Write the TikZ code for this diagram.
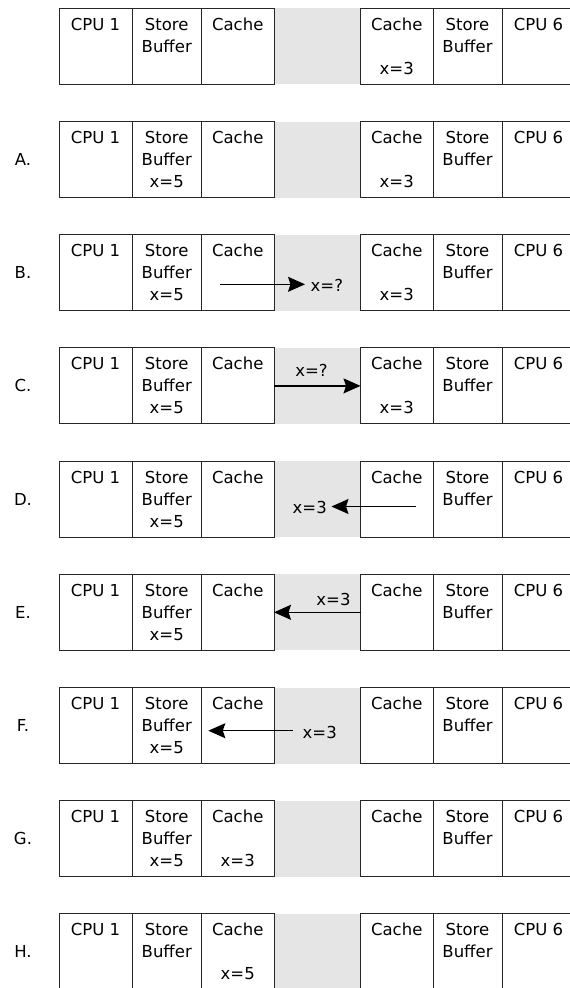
\documentclass[tikz,border=0pt]{standalone}
\usepackage{fontspec}
\setmainfont{DejaVu Sans}
\usetikzlibrary{arrows.meta}
\tikzset{
  cell/.style={draw=black!85,line width=0.9pt,anchor=north west,minimum height=76pt,inner sep=0pt,outer sep=0pt},
  band/.style={fill=black!10,draw=none,anchor=north west,minimum height=76pt,minimum width=86.5pt,inner sep=0pt,outer sep=0pt},
  txt/.style={anchor=base,font=\fontsize{16.5}{19}\selectfont,inner sep=0pt},
  mv/.style={line width=1.3pt,-{Stealth[length=17pt,width=15pt,inset=2.5pt]}}
}
% #1 id, #2 top, #3 row letter, #4 store buffer line 3, #5 left cache line 3, #6 right cache line 3
\newcommand\cpurow[6]{%
  \node[band] (gap-#1) at (274,#2) {};
  \node[cell,minimum width=73pt] (cpuA-#1) at (59,#2) {};
  \node[cell,minimum width=69.5pt] (sbL-#1) at (132,#2) {};
  \node[cell,minimum width=72.5pt] (caL-#1) at (201.5,#2) {};
  \node[cell,minimum width=72.5pt] (caR-#1) at (360.5,#2) {};
  \node[cell,minimum width=69pt] (sbR-#1) at (433,#2) {};
  \node[cell,minimum width=73pt] (cpuB-#1) at (502,#2) {};
  \node[txt] (t1-#1) at ({95.5},{#2+22}) {CPU 1};
  \node[txt] (t2-#1) at ({166.75},{#2+22}) {Store};
  \node[txt] (t3-#1) at ({166.75},{#2+44}) {Buffer};
  \node[txt] (t4-#1) at ({166.75},{#2+66}) {#4};
  \node[txt] (t5-#1) at ({237.75},{#2+22}) {Cache};
  \node[txt] (t6-#1) at ({237.75},{#2+66}) {#5};
  \node[txt] (t7-#1) at ({396.75},{#2+22}) {Cache};
  \node[txt] (t8-#1) at ({396.75},{#2+66}) {#6};
  \node[txt] (t9-#1) at ({467.5},{#2+22}) {Store};
  \node[txt] (t10-#1) at ({467.5},{#2+44}) {Buffer};
  \node[txt] (t11-#1) at ({538.5},{#2+22}) {CPU 6};
  \node[txt] (lab-#1) at ({23},{#2+44}) {#3};
}
\begin{document}
\begin{tikzpicture}[x=1pt,y=-1pt]
\useasboundingbox (0,0) rectangle (570,988);
\clip (0,0) rectangle (570,988);
\cpurow{0}{8.3}{}{}{}{x=3}
\cpurow{1}{121.5}{A.}{x=5}{}{x=3}
\cpurow{2}{234.7}{B.}{x=5}{}{x=3}
\cpurow{3}{347.9}{C.}{x=5}{}{x=3}
\cpurow{4}{461.1}{D.}{x=5}{}{}
\cpurow{5}{574.3}{E.}{x=5}{}{}
\cpurow{6}{687.5}{F.}{x=5}{}{}
\cpurow{7}{800.7}{G.}{x=5}{x=3}{}
\cpurow{8}{913.9}{H.}{}{x=5}{}
% B
\coordinate (bS) at (220,284.3);
\coordinate (bE) at (305,284.3);
\draw[mv] (bS) -- (bE);
\node[txt,anchor=base west] (vB) at (310.5,291.7) {x=?};
% C
\draw[mv] (caL-3.east) -- (caR-3.west);
\node[txt] (vC) at (311.5,376.7) {x=?};
% D
\coordinate (dS) at (416,506.5);
\coordinate (dE) at (331.5,506.5);
\draw[mv] (dS) -- (dE);
\node[txt,anchor=base east] (vD) at (327,513.3) {x=3};
% E
\draw[mv] (caR-5.west) -- (caL-5.east);
\node[txt] (vE) at (333.5,605) {x=3};
% F
\coordinate (fS) at (292.7,730.7);
\coordinate (fE) at (208.3,730.7);
\draw[mv] (fS) -- (fE);
\node[txt,anchor=base west] (vF) at (302.5,738) {x=3};
\end{tikzpicture}
\end{document}
